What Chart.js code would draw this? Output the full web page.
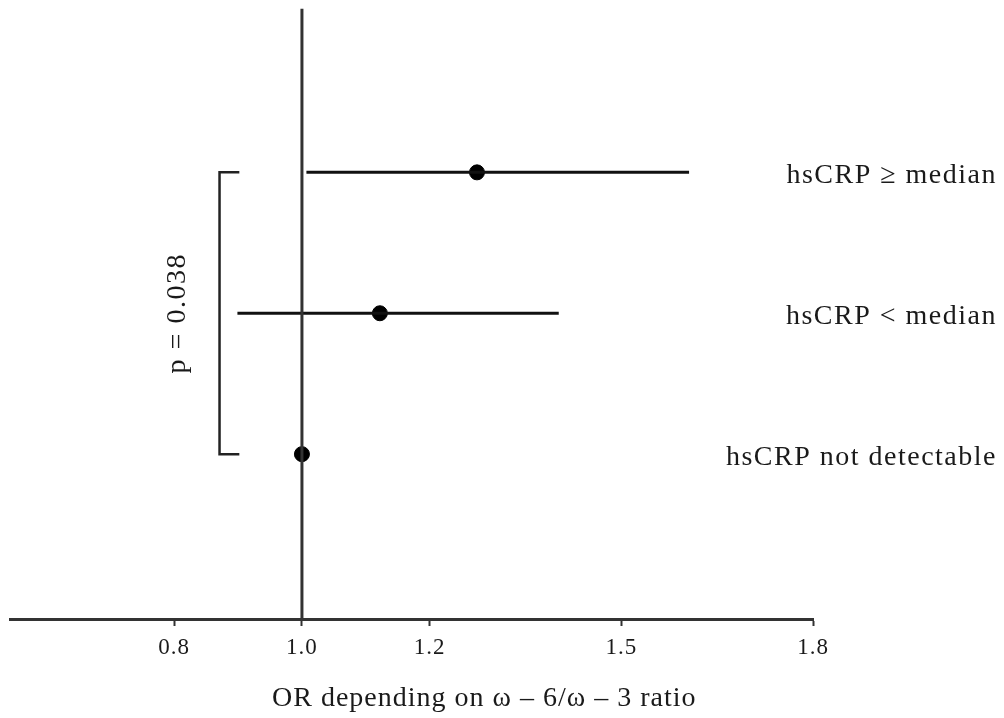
<!DOCTYPE html>
<html>
<head>
<meta charset="utf-8">
<script src="https://cdn.jsdelivr.net/npm/chart.js@4.4.0/dist/chart.umd.min.js"></script>
<style>
  html, body { margin: 0; padding: 0; background: #fff; }
</style>
</head>
<body>
<canvas id="forest" width="1004" height="718"></canvas>
<script>
// forest plot: OR by hsCRP group
const groups = ['hsCRP not detectable', 'hsCRP < median', 'hsCRP \u2265 median'];
const groupPos = [1, 2, 3];
const oddsRatio = [1.0, 1.122, 1.274];
const ciLower = [null, 0.899, 1.007];
const ciUpper = [null, 1.402, 1.606];
const xTicks = [0.8, 1.0, 1.2, 1.5, 1.8];
const pLabel = 'p = 0.038';
const xTitle = 'OR depending on \u03c9 \u2013 6/\u03c9 \u2013 3 ratio';

const X_MIN = 0.543, X_MAX = 1.8;
const Y_MIN = -0.17, Y_MAX = 4.163;
const BRACKET_X = [0.902, 0.871];
const SERIF = '"Liberation Serif", "Times New Roman", serif';

const datasets = [];

// reference line at OR = 1
datasets.push({
    data: [{ x: 1, y: Y_MIN }, { x: 1, y: Y_MAX }],
    showLine: true,
    borderColor: '#333',
    borderWidth: 3,
    pointRadius: 0
});

// confidence intervals
groups.forEach((g, i) => {
    if (ciLower[i] === null) return;
    datasets.push({
        data: [{ x: ciLower[i], y: groupPos[i] }, { x: ciUpper[i], y: groupPos[i] }],
        showLine: true,
        borderColor: '#111',
        borderWidth: 3,
        borderCapStyle: 'butt',
        pointRadius: 0
    });
});

// bracket for p value, from top group to bottom group
datasets.push({
    data: [
        { x: BRACKET_X[0], y: groupPos[2] },
        { x: BRACKET_X[1], y: groupPos[2] },
        { x: BRACKET_X[1], y: groupPos[0] },
        { x: BRACKET_X[0], y: groupPos[0] }
    ],
    showLine: true,
    borderColor: '#222',
    borderWidth: 2.5,
    borderJoinStyle: 'miter',
    borderCapStyle: 'butt',
    pointRadius: 0
});

// point estimates
datasets.push({
    data: oddsRatio.map((v, i) => ({ x: v, y: groupPos[i] })),
    pointRadius: 7.5,
    pointBackgroundColor: '#000',
    pointBorderColor: '#000',
    pointBorderWidth: 1
});

const textPlugin = {
    id: 'forestText',
    beforeDraw(chart) {
        // the figure's serif text runs a bit wider than Liberation Serif
        chart.ctx.letterSpacing = '1px';
    },
    afterDraw(chart) {
        const { ctx, scales: { x, y } } = chart;
        ctx.save();
        ctx.fillStyle = '#1a1a1a';

        // group labels on the right
        ctx.font = '28px ' + SERIF;
        ctx.letterSpacing = '1.5px';
        ctx.textAlign = 'right';
        ctx.textBaseline = 'alphabetic';
        groups.forEach((g, i) => {
            ctx.fillText(g, 997, y.getPixelForValue(groupPos[i]) + 11);
        });

        // p value, vertical
        ctx.save();
        ctx.translate(x.getPixelForValue(0.806), y.getPixelForValue(groupPos[1]));
        ctx.rotate(-Math.PI / 2);
        ctx.textAlign = 'center';
        ctx.textBaseline = 'middle';
        ctx.fillText(pLabel, 0, 0);
        ctx.restore();

        // axis title
        ctx.font = '28px ' + SERIF;
        ctx.letterSpacing = '1px';
        ctx.textAlign = 'left';
        ctx.fillText(xTitle, 272, 706);
        ctx.restore();
    }
};

new Chart(document.getElementById('forest').getContext('2d'), {
    type: 'scatter',
    data: { datasets },
    options: {
        responsive: false,
        animation: false,
        devicePixelRatio: 1,
        layout: { padding: { left: 10, right: 191, top: 7, bottom: 0 } },
        plugins: {
            legend: { display: false },
            tooltip: { enabled: false }
        },
        scales: {
            x: {
                type: 'linear',
                min: X_MIN,
                max: X_MAX,
                afterBuildTicks: s => { s.ticks = xTicks.map(v => ({ value: v })); },
                afterFit: s => { s.height = 99; },
                ticks: {
                    callback: v => v.toFixed(1),
                    font: { family: SERIF, size: 23 },
                    color: '#1a1a1a',
                    padding: 8,
                    maxRotation: 0
                },
                grid: {
                    drawOnChartArea: false,
                    drawTicks: true,
                    tickLength: 7,
                    tickWidth: 2,
                    tickColor: '#333'
                },
                border: { display: true, width: 3, color: '#333' }
            },
            y: {
                type: 'linear',
                min: Y_MIN,
                max: Y_MAX,
                display: false
            }
        }
    },
    plugins: [textPlugin]
});
</script>
</body>
</html>
